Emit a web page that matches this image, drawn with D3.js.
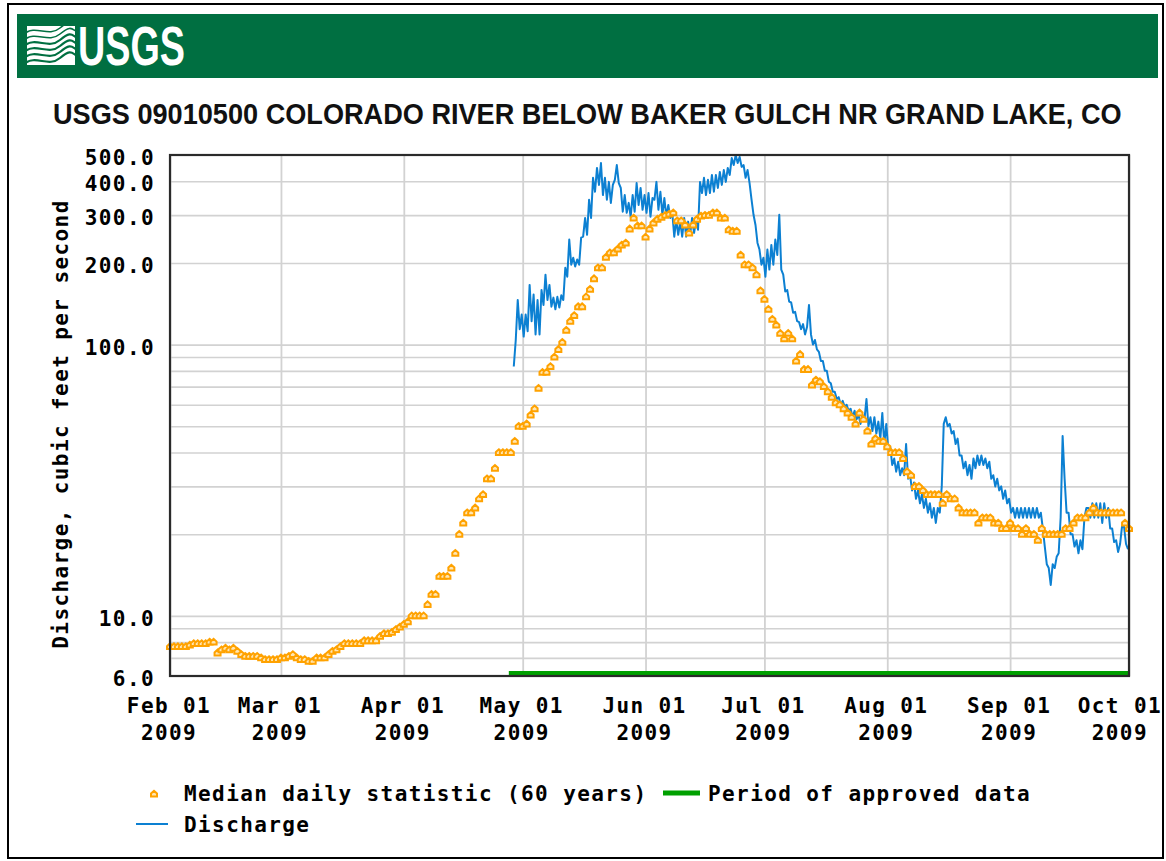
<!DOCTYPE html>
<html><head><meta charset="utf-8">
<script src="https://cdn.jsdelivr.net/npm/d3@7"></script>
<style>
html,body{margin:0;padding:0;background:#fff;}
svg{display:block;}
</style></head>
<body>
<svg id="chart" width="1166" height="861"></svg>
<script>
// ---------------- DATA ----------------
const chartTitle = "USGS 09010500 COLORADO RIVER BELOW BAKER GULCH NR GRAND LAKE, CO";
const yAxisTitle = "Discharge, cubic feet per second";
const xTickDates = ["2009-02-01","2009-03-01","2009-04-01","2009-05-01","2009-06-01","2009-07-01","2009-08-01","2009-09-01","2009-10-01"];
const xTickLine1 = ["Feb 01","Mar 01","Apr 01","May 01","Jun 01","Jul 01","Aug 01","Sep 01","Oct 01"];
const xTickLine2 = ["2009","2009","2009","2009","2009","2009","2009","2009","2009"];
const yTickValues = [6, 10, 100, 200, 300, 400, 500];
const yGridValues = [7, 8, 9, 10, 20, 30, 40, 50, 60, 70, 80, 90, 100, 200, 300, 400];
const xDomain = ["2009-02-01T00:00:00Z", "2009-10-01T00:00:00Z"];
const yDomain = [6, 500];

// Median daily statistic (60 years), one value per day starting Feb 01
const medianStart = "2009-02-01T00:00:00Z";
const medianValues = [
  7.7,7.7,7.7,7.7,7.7,7.8,7.9,7.9,7.9,7.9,8.0,8.0,
  7.3,7.5,7.6,7.5,7.6,7.4,7.2,7.1,7.1,7.1,7.1,7.0,
  6.9,6.9,6.9,6.9,7.0,7.0,7.1,7.2,7.0,6.9,6.9,6.8,
  6.8,7.0,7.0,7.0,7.2,7.4,7.5,7.7,7.9,7.9,7.9,7.9,
  7.9,8.1,8.1,8.1,8.1,8.4,8.6,8.6,8.7,8.9,9.1,9.3,
  9.5,10,10,10,10,11,12,12,14,14,14,15,
  17,20,22,24,24,25,27,28,32,32,35,40,
  40,40,40,44,50,50,51,55,58,69,79,79,
  83,90,96,102,113,122,128,138,138,150,160,175,
  192,192,210,218,218,225,233,237,267,293,274,274,
  249,267,281,290,295,300,303,306,286,286,276,258,
  276,290,298,300,300,306,306,293,293,265,262,262,
  214,197,197,192,181,158,147,135,124,118,110,105,
  110,105,87,92,81,81,71,74,73,70,67,64,
  61,60,58,56,54,51,56,53,48,43,45,44,
  44,42,40,40,40,38,34,33,30,30,29,28,
  28,28,28,26,28,27,27,25,24,24,24,24,
  22,23,23,23,22,22,21,21,22,21,21,20,
  21,20,20,19,21,20,20,20,20,20,21,21,
  22,23,23,23,24,25,24,24,24,24,24,24,
  24,22,21
];

// Discharge, readings every 12 hours starting Apr 28 18:00
const dischargeStart = "2009-04-28T18:00:00Z";
const dischargeStepHours = 12;
const dischargeValues = [
  83,104,146,114,129,107,129,112,166,122,
  153,109,146,109,159,140,181,146,166,138,
  149,135,150,137,152,146,192,178,244,197,
  209,194,206,197,248,250,293,254,342,293,
  412,366,448,388,467,356,412,342,398,333,
  388,405,459,394,378,309,356,306,333,296,
  356,309,394,327,378,314,356,306,362,296,
  347,342,398,314,366,301,347,296,327,293,
  306,250,288,254,284,250,293,250,284,254,
  293,258,288,265,398,362,412,356,405,362,
  422,366,422,378,433,388,440,398,448,422,
  487,459,500,467,492,452,459,412,440,394,
  342,301,276,237,224,197,209,178,224,189,
  233,197,244,214,301,189,181,157,159,144,
  143,131,132,122,121,114,119,109,116,140,
  109,100,104,96,94,87,87,80,80,73,
  72,67,67,63,64,60,62,59,60,57,
  58,54,57,53,55,51,55,53,63,50,
  54,48,54,47,52,45,56,43,51,41,
  42,36,38,34,37,33,35,33,43,32,
  33,29,31,27,29,26,28,25,27,24,
  26,23,25,22,25,24,30,51,54,50,
  51,47,48,43,45,39,39,35,37,33,
  36,32,38,35,39,36,39,36,38,35,
  37,32,33,30,32,29,30,27,29,26,
  27,24,25,23,25,23,25,23,25,23,
  25,23,25,23,25,23,24,21,18,15.5,
  15,13,15.5,15,16.5,17,23,46,32,24,
  24,20,20,18,19,17,19,17.6,23,25,
  25,23,26,23,26,23,26,22,26,23,
  25,21,21,18.7,19,17.2,18.4,21.4,21.3,18.4,
  17.6
];

const approvedPeriod = ["2009-04-27T12:00:00Z", "2009-10-01T00:00:00Z"];
const legendMedianLabel = "Median daily statistic (60 years)";
const legendApprovedLabel = "Period of approved data";
const legendDischargeLabel = "Discharge";

// ---------------- DRAW ----------------
const svg = d3.select("#chart");
const W = 1166, H = 861;
const plot = {left: 170, right: 1129, top: 155, bottom: 676};
const mono = "'DejaVu Sans Mono', 'Liberation Mono', monospace";
const monoSize = 21, monoSpacing = 1.4;
const orange = "#ffa200", blue = "#0c80d2", green = "#00a000";

const x = d3.scaleUtc().domain(xDomain.map(d => new Date(d))).range([plot.left, plot.right]);
const y = d3.scaleLog().domain(yDomain).range([plot.bottom, plot.top]);

// outer frame
svg.append("rect").attr("x", 8).attr("y", 4).attr("width", 1155).attr("height", 854)
  .attr("fill", "#fff").attr("stroke", "#000").attr("stroke-width", 2);

// banner
svg.append("rect").attr("x", 17).attr("y", 14).attr("width", 1141).attr("height", 64).attr("fill", "#006f41");
// logo mark
const logo = svg.append("g");
logo.append("clipPath").attr("id", "logoclip").append("rect")
  .attr("x", 27).attr("y", 26).attr("width", 48).attr("height", 39);
const lg = logo.append("g").attr("clip-path", "url(#logoclip)");
lg.append("rect").attr("x", 27).attr("y", 26).attr("width", 48).attr("height", 39).attr("fill", "#fff");
[30, 36, 42, 48, 54, 60].forEach((yy, i) => {
  lg.append("path")
    .attr("d", `M24,${yy + 4} C36,${yy - 6} 48,${yy + 8} 60,${yy - 2} S72,${yy - 6} 78,${yy - 4}`)
    .attr("fill", "none").attr("stroke", "#006f41").attr("stroke-width", i < 2 ? 1.6 : 2.2);
});
const logoText = logo.append("text")
  .attr("font-family", "'Liberation Sans Narrow', 'Liberation Sans', Arial, sans-serif")
  .attr("font-weight", "bold").attr("font-size", 55).attr("fill", "#fff")
  .text("USGS");
{
  const w = logoText.node().getComputedTextLength();
  logoText.attr("transform", `translate(78,65) scale(${107 / w},1)`);
}

// title (scaled horizontally to the reference width)
const titleText = svg.append("text")
  .attr("font-family", "'Liberation Sans', Arial, sans-serif")
  .attr("font-size", 30).attr("font-weight", "bold").attr("fill", "#111")
  .text(chartTitle);
{
  const w = titleText.node().getComputedTextLength();
  titleText.attr("transform", `translate(53,124) scale(${1069 / w},1)`);
}

// grid
const pw = plot.right - plot.left, ph = plot.bottom - plot.top;
const gridY = svg.append("g").attr("transform", `translate(${plot.left},0)`)
  .call(d3.axisLeft(y).tickValues(yGridValues).tickSize(-pw).tickFormat(""));
gridY.select(".domain").remove();
gridY.selectAll("line").attr("stroke", "#d2d2d2").attr("stroke-width", 1.6);

const gridX = svg.append("g").attr("transform", `translate(0,${plot.bottom})`)
  .call(d3.axisBottom(x).tickValues(xTickDates.map(d => new Date(d + "T00:00:00Z"))).tickSize(-ph).tickFormat(""));
gridX.select(".domain").remove();
gridX.selectAll("line").attr("stroke", "#d2d2d2").attr("stroke-width", 1.8);

// approved data bar
svg.append("rect")
  .attr("x", x(new Date(approvedPeriod[0]))).attr("y", 671)
  .attr("width", x(new Date(approvedPeriod[1])) - x(new Date(approvedPeriod[0])) + 1)
  .attr("height", 5).attr("fill", green);

// discharge line
const dischargeData = dischargeValues.map((v, i) => ({
  date: d3.utcHour.offset(new Date(dischargeStart), i * dischargeStepHours), value: v
}));
svg.append("path").datum(dischargeData)
  .attr("d", d3.line().x(d => x(d.date)).y(d => y(d.value)))
  .attr("fill", "none").attr("stroke", blue).attr("stroke-width", 2).attr("stroke-linejoin", "round");

// median markers
const medianData = medianValues.map((v, i) => ({date: d3.utcDay.offset(new Date(medianStart), i), value: v}));
const markerPath = "M-3,2.5 L3,2.5 L3,-0.5 L0,-3.2 L-3,-0.5 Z";
svg.append("g").selectAll("path").data(medianData).join("path")
  .attr("transform", d => `translate(${x(d.date)},${y(d.value)})`)
  .attr("d", markerPath).attr("fill", "#ffe6b3").attr("stroke", orange).attr("stroke-width", 2);

// plot frame
svg.append("rect").attr("x", plot.left).attr("y", plot.top).attr("width", pw).attr("height", ph)
  .attr("fill", "none").attr("stroke", "#2a2a2a").attr("stroke-width", 2.2);

// y labels
const yLab = svg.append("g").attr("transform", `translate(${plot.left - 15},0)`)
  .call(d3.axisLeft(y).tickValues(yTickValues).tickSize(0).tickFormat(d3.format(".1f")));
yLab.select(".domain").remove();
yLab.selectAll("text")
  .attr("x", 0).attr("dy", null).attr("y", 9.5)
  .attr("font-family", mono).attr("font-size", monoSize).attr("font-weight", "bold")
  .attr("letter-spacing", monoSpacing).attr("fill", "#000").attr("text-anchor", "end");

// x labels
const xLab = svg.append("g");
xTickDates.forEach((d, i) => {
  let cx = x(new Date(d + "T00:00:00Z")) - 1;
  const half = (xTickLine1[i].length * (monoSize * 0.602 + monoSpacing)) / 2;
  cx = Math.min(cx, W - 4 - half);
  const t = xLab.append("text").attr("text-anchor", "middle")
    .attr("font-family", mono).attr("font-size", monoSize).attr("font-weight", "bold")
    .attr("letter-spacing", monoSpacing).attr("fill", "#000");
  t.append("tspan").attr("x", cx).attr("y", 713).text(xTickLine1[i]);
  t.append("tspan").attr("x", cx).attr("y", 740).text(xTickLine2[i]);
});

// y axis title
svg.append("text").attr("transform", "translate(68,424) rotate(-90)")
  .attr("text-anchor", "middle")
  .attr("font-family", mono).attr("font-size", monoSize).attr("font-weight", "bold")
  .attr("letter-spacing", monoSpacing).attr("fill", "#000")
  .text(yAxisTitle);

// legend
const leg = svg.append("g").attr("font-family", mono).attr("font-size", monoSize)
  .attr("font-weight", "bold").attr("letter-spacing", monoSpacing).attr("fill", "#000");
leg.append("path").attr("transform", "translate(154,794)").attr("d", markerPath)
  .attr("fill", "#ffe6b3").attr("stroke", orange).attr("stroke-width", 2);
leg.append("text").attr("x", 184).attr("y", 801).text(legendMedianLabel);
leg.append("line").attr("x1", 663).attr("x2", 700).attr("y1", 793).attr("y2", 793)
  .attr("stroke", green).attr("stroke-width", 5);
leg.append("text").attr("x", 708).attr("y", 801).text(legendApprovedLabel);
leg.append("line").attr("x1", 136).attr("x2", 168).attr("y1", 824).attr("y2", 824)
  .attr("stroke", blue).attr("stroke-width", 2);
leg.append("text").attr("x", 184).attr("y", 832).text(legendDischargeLabel);
</script>
</body></html>
